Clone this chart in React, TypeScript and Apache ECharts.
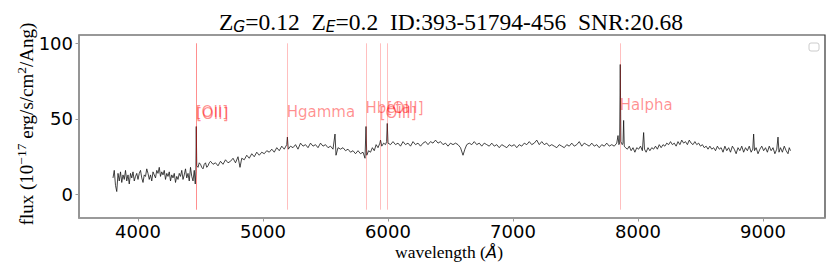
import { useEffect, useRef } from "react";
import * as echarts from "echarts";

// Observed spectrum: [wavelength (Å), flux (1e-17 erg/s/cm^2/Ang)]
const spectrum: [number, number][] = [
  [3800, 11], [3810, 16], [3820, 6], [3830, 2], [3840, 14], [3850, 9], [3860, 15], [3870, 8], [3880, 13], [3890, 10],
  [3900, 16], [3910, 9], [3920, 13], [3930, 7], [3940, 14], [3950, 11], [3960, 15], [3970, 9], [3980, 12], [3990, 14],
  [4000, 10], [4010, 14], [4020, 16], [4030, 11], [4040, 8], [4050, 13], [4060, 12], [4070, 17], [4080, 14], [4090, 10],
  [4100, 13], [4110, 9], [4120, 15], [4130, 13], [4140, 11], [4150, 16], [4160, 14], [4170, 18], [4180, 12], [4190, 15],
  [4200, 13], [4210, 16], [4220, 10], [4230, 14], [4240, 12], [4250, 15], [4260, 9], [4270, 13], [4280, 11], [4290, 14],
  [4300, 8], [4310, 12], [4320, 10], [4330, 14], [4340, 12], [4350, 16], [4360, 10], [4370, 13], [4380, 17], [4390, 11],
  [4400, 14], [4410, 9], [4420, 18], [4430, 12], [4440, 9], [4450, 16], [4458, 7], [4463, 15], [4466, 45], [4470, 19],
  [4480, 18], [4490, 21], [4500, 20], [4510, 18], [4520, 17], [4530, 20], [4540, 21], [4550, 18], [4560, 19], [4570, 21],
  [4580, 22], [4600, 20], [4620, 21], [4640, 19], [4660, 22],
  [4680, 20], [4700, 23], [4720, 21], [4740, 22], [4760, 24], [4780, 21], [4800, 25], [4816, 18], [4830, 24], [4850, 23],
  [4870, 26], [4890, 24], [4910, 27], [4930, 25], [4950, 28], [4970, 26], [4990, 28], [5010, 27], [5030, 29], [5050, 28],
  [5070, 30], [5090, 28], [5110, 31], [5130, 29], [5150, 32], [5170, 30], [5190, 33], [5195, 38], [5202, 30], [5220, 32],
  [5240, 31], [5260, 33], [5280, 30], [5300, 34], [5320, 32], [5340, 33], [5360, 31], [5380, 34], [5400, 32], [5420, 33],
  [5440, 31], [5460, 34], [5480, 32], [5500, 33], [5520, 31], [5540, 32], [5560, 30], [5576, 40], [5584, 26], [5600, 31],
  [5620, 30], [5640, 31], [5660, 29], [5680, 30], [5700, 28], [5720, 29], [5740, 27], [5760, 29], [5780, 27], [5800, 28],
  [5816, 24], [5824, 45], [5830, 26], [5845, 29], [5860, 28], [5875, 31], [5890, 29], [5905, 33], [5920, 31], [5935, 34],
  [5940, 36], [5950, 32], [5965, 34], [5980, 33], [5989, 35], [5994, 47], [6000, 34], [6020, 33], [6040, 35], [6060, 33],
  [6080, 34], [6100, 32], [6120, 35], [6140, 33], [6160, 34], [6180, 32], [6200, 35], [6220, 33], [6240, 34], [6260, 32],
  [6280, 34], [6300, 35], [6320, 33], [6340, 35], [6360, 34], [6380, 36], [6400, 34], [6420, 35], [6440, 33], [6460, 34],
  [6480, 32], [6500, 34], [6520, 33], [6540, 34], [6560, 33], [6580, 31], [6600, 26], [6615, 30], [6630, 33], [6650, 34],
  [6670, 33], [6690, 35], [6710, 33], [6730, 34], [6750, 32], [6770, 34], [6790, 33], [6810, 32], [6830, 34], [6850, 32],
  [6870, 33], [6890, 31], [6910, 33], [6930, 32], [6950, 31], [6970, 33], [6990, 32], [7010, 33], [7030, 31], [7050, 33],
  [7070, 32], [7090, 34], [7110, 33], [7130, 35], [7150, 33], [7170, 34], [7190, 36], [7210, 33], [7230, 35], [7250, 33],
  [7270, 34], [7290, 32], [7310, 33], [7330, 32], [7350, 31], [7370, 33], [7390, 32], [7410, 31], [7430, 33], [7450, 32],
  [7470, 34], [7490, 32], [7510, 33], [7530, 35], [7550, 32], [7570, 34], [7590, 33], [7610, 32], [7630, 34], [7650, 32],
  [7670, 33], [7690, 31], [7710, 33], [7730, 32], [7750, 34], [7770, 32], [7790, 33], [7810, 32], [7830, 34], [7840, 39],
  [7847, 33], [7853, 34], [7858, 86], [7863, 35], [7874, 33], [7880, 34], [7885, 49], [7890, 32], [7900, 31], [7915, 30],
  [7930, 32], [7945, 29], [7960, 31], [7975, 28], [7990, 31], [8005, 30], [8020, 32], [8035, 29], [8045, 41], [8052, 30],
  [8065, 28], [8080, 31], [8095, 29], [8110, 31], [8125, 30], [8140, 32], [8155, 30], [8170, 33], [8185, 31], [8200, 33],
  [8215, 32], [8230, 34], [8245, 33], [8260, 35], [8275, 33], [8290, 34], [8305, 32], [8320, 35], [8335, 33], [8350, 36],
  [8365, 34], [8380, 35], [8395, 33], [8410, 36], [8425, 34], [8440, 33], [8455, 35], [8470, 33], [8485, 34], [8500, 32],
  [8515, 33], [8530, 31], [8545, 32], [8560, 30], [8575, 32], [8590, 30], [8605, 31], [8620, 29], [8635, 32], [8650, 30],
  [8665, 31], [8680, 28], [8695, 32], [8710, 29], [8725, 31], [8740, 28], [8755, 32], [8770, 30], [8785, 27], [8800, 31],
  [8815, 29], [8830, 32], [8845, 28], [8860, 31], [8875, 29], [8890, 32], [8905, 28], [8918, 30], [8925, 40], [8932, 29],
  [8945, 31], [8960, 27], [8975, 30], [8990, 32], [9005, 29], [9020, 31], [9035, 28], [9050, 32], [9065, 29], [9080, 31],
  [9095, 27], [9110, 30], [9120, 38], [9128, 28], [9140, 31], [9155, 28], [9170, 32], [9185, 29], [9200, 27], [9210, 31],
  [9220, 29],
];

// Emission line markers
const lineWaves = [4466, 4469, 5194, 5824, 5938, 5994, 7858];
const lineNames = ["[OII]", "[OII]", "Hgamma", "Hbeta", "[OIII]", "[OIII]", "Halpha"];
const labelY = [49, 48, 49.5, 52, 48.5, 52, 54];
const lineBottom = -10;
const lineTop = 100;

// Axes
const xMin = 3528;
const xMax = 9496;
const yMin = -15.5;
const yMax = 105.5;
const xTicks = [4000, 5000, 6000, 7000, 8000, 9000];
const yTicks = [0, 50, 100];

const titleText =
  "{m|Z}{s|G}{m|=0.12\u00a0\u00a0Z}{s|E}{m|=0.2\u00a0\u00a0ID:393-51794-456\u00a0\u00a0SNR:20.68}";
const yLabelText = "{m|flux (10}{p|\u221217}{m|\u00a0erg/s/cm}{p|2}{m|/Ang)}";
const xLabelText = "{m|wavelength (}{i|\u00c5}{m|)}";

const SERIF = "'Liberation Serif', 'Times New Roman', serif";
const SANS = "'DejaVu Sans', sans-serif";

export default function App() {
  const ref = useRef<HTMLDivElement>(null);
  useEffect(() => {
    const chart = echarts.init(ref.current!, null, { renderer: "svg" });
    const option: any = {
      animation: false,
      backgroundColor: "#ffffff",
      grid: {
        left: 79,
        right: 14,
        top: 35,
        bottom: 62,
        show: true,
        borderColor: "#333333",
        borderWidth: 1.2,
        backgroundColor: "transparent",
        outerBoundsMode: "none",
      },
      xAxis: {
        type: "value",
        min: xMin,
        max: xMax,
        axisLine: { show: true, onZero: false, lineStyle: { color: "#9a9a9a", width: 1.6 } },
        axisTick: { show: true, customValues: xTicks, length: 3.5, lineStyle: { color: "#9a9a9a", width: 1 } },
        axisLabel: {
          customValues: xTicks,
          fontSize: 18,
          color: "#000",
          fontFamily: SANS,
          margin: 4,
          formatter: (v: number) => String(v),
        },
        splitLine: { show: false },
      },
      yAxis: {
        type: "value",
        min: yMin,
        max: yMax,
        axisLine: { show: true, onZero: false, lineStyle: { color: "#9a9a9a", width: 1.6 } },
        axisTick: { show: true, customValues: yTicks, length: 3.5, lineStyle: { color: "#9a9a9a", width: 1 } },
        axisLabel: {
          customValues: yTicks,
          fontSize: 18,
          color: "#000",
          fontFamily: SANS,
          margin: 6,
          formatter: (v: number) => String(v),
        },
        splitLine: { show: false },
      },
      series: [
        {
          type: "line",
          data: spectrum,
          showSymbol: false,
          symbol: "none",
          lineStyle: { color: "#151515", width: 0.8 },
          silent: true,
          z: 2,
          markLine: {
            silent: true,
            symbol: ["none", "none"],
            label: { show: false },
            lineStyle: { color: "rgba(255,0,0,0.25)", width: 1, type: "solid" },
            data: lineWaves.map((w) => [{ coord: [w, lineBottom] }, { coord: [w, lineTop] }]),
          },
        },
        {
          type: "scatter",
          data: lineWaves.map((w, i) => [w, labelY[i], lineNames[i]]),
          symbolSize: 1,
          itemStyle: { color: "rgba(0,0,0,0)" },
          silent: true,
          z: 3,
          labelLayout: { hideOverlap: false },
          label: {
            show: true,
            position: [0, 0],
            align: "left",
            verticalAlign: "bottom",
            formatter: (p: any) => p.data[2],
            color: "rgba(255,0,0,0.55)",
            fontSize: 15,
            fontFamily: SANS,
          },
        },
      ],
      graphic: [
        {
          type: "text",
          x: 451,
          y: 22,
          style: {
            text: titleText,
            align: "center",
            verticalAlign: "middle",
            rich: {
              m: { fontFamily: SERIF, fontSize: 23.5, lineHeight: 26, fill: "#000", verticalAlign: "middle" },
              s: { fontFamily: SANS, fontStyle: "italic", fontSize: 15.5, lineHeight: 14, fill: "#000", verticalAlign: "bottom" },
            },
          },
        },
        {
          type: "text",
          x: 26,
          y: 124,
          rotation: Math.PI / 2,
          style: {
            text: yLabelText,
            align: "center",
            verticalAlign: "middle",
            rich: {
              m: { fontFamily: SERIF, fontSize: 19, lineHeight: 24, fill: "#000", verticalAlign: "middle" },
              p: { fontFamily: SERIF, fontSize: 13.5, lineHeight: 12, fill: "#000", verticalAlign: "top" },
            },
          },
        },
        {
          type: "text",
          x: 449,
          y: 252,
          style: {
            text: xLabelText,
            align: "center",
            verticalAlign: "middle",
            rich: {
              m: { fontFamily: SERIF, fontSize: 17.5, lineHeight: 24, fill: "#000", verticalAlign: "middle" },
              i: { fontFamily: SANS, fontStyle: "italic", fontSize: 16.5, lineHeight: 24, fill: "#000", verticalAlign: "middle" },
            },
          },
        },
        {
          type: "rect",
          shape: { x: 809, y: 43, width: 10, height: 8, r: 2 },
          style: { fill: "#ffffff", stroke: "#cccccc", lineWidth: 1 },
        },
      ],
    };
    chart.setOption(option);
    return () => chart.dispose();
  }, []);
  return <div ref={ref} style={{ position: "fixed", left: 0, top: 0, width: 839, height: 280 }} />;
}
